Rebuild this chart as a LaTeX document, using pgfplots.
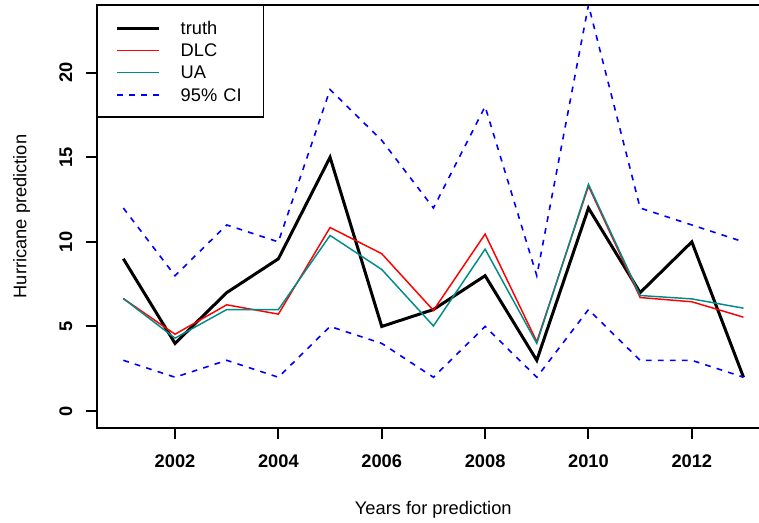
\documentclass[border=0pt]{standalone}
\usepackage{fontspec}
\setmainfont{Liberation Sans}
\usepackage{pgfplots}
\pgfplotsset{compat=1.18}
\definecolor{uacol}{RGB}{0,139,139}
\newcommand\ff{\fontsize{13.7}{16}\selectfont}

\begin{document}
\begin{tikzpicture}
\begin{axis}[
  scale only axis, width=496.5pt, height=317.25pt,
  xmin=2000.49, xmax=2013.30, ymin=-1, ymax=24,
  axis lines*=left,
  axis line style={line width=1.5pt, line cap=rect},
  tick align=outside, major tick length=8.6pt,
  tick style={line width=1.5pt, black},
  xtick={2002,2004,...,2012}, ytick={0,5,10,15,20},
  /pgf/number format/assume math mode=true,
  /pgf/number format/1000 sep={},
  ticklabel style={font=\ff\bfseries},
  xticklabel style={anchor=north, inner sep=0pt, yshift=-11.25pt},
  yticklabel style={xshift=-9.75pt, rotate=90, anchor=south, inner sep=0pt},
  xlabel={Years for prediction}, ylabel={Hurricane prediction},
  label style={font=\ff},
  xlabel style={at={(axis description cs:0.508,0)}, anchor=base, yshift=-65pt, inner sep=0pt},
  ylabel style={at={(axis description cs:-0.1065,0.5)}, anchor=base, inner sep=0pt},
  legend cell align=left,
  legend style={at={(0,1)}, anchor=north west, draw=black, line width=1.1pt, fill=white,
    inner xsep=13.5pt, inner ysep=9.9pt, row sep=3pt, column sep=15pt, font=\ff,
    nodes={inner sep=0pt, text height=11.6pt, text depth=2.1pt, text width=48.75pt}},
  legend image code/.code={\draw[#1] (0pt,0pt) -- (31.5pt,0pt);},
  every axis plot/.append style={line join=miter},
]
\addplot[black, line width=2.25pt] coordinates {
  (2001,9) (2002,4) (2003,7) (2004,9) (2005,15) (2006,5) (2007,6)
  (2008,8) (2009,3) (2010,12) (2011,7) (2012,10) (2013,2)};
\addlegendentry{truth}
\addplot[red, line width=1.1pt] coordinates {
  (2001,6.65) (2002,4.54) (2003,6.28) (2004,5.73) (2005,10.85) (2006,9.3) (2007,5.95)
  (2008,10.46) (2009,4.1) (2010,13.3) (2011,6.71) (2012,6.46) (2013,5.55)};
\addlegendentry{DLC}
\addplot[uacol, line width=1.1pt] coordinates {
  (2001,6.65) (2002,4.31) (2003,6.0) (2004,6.0) (2005,10.38) (2006,8.37) (2007,5.03)
  (2008,9.57) (2009,4.0) (2010,13.4) (2011,6.83) (2012,6.63) (2013,6.08)};
\addlegendentry{UA}
\addplot[blue, line width=1.2pt, dash pattern=on 4.3pt off 4.7pt] coordinates {
  (2001,12) (2002,8) (2003,11) (2004,10) (2005,19) (2006,16) (2007,12)
  (2008,18) (2009,8) (2010,24) (2011,12) (2012,11) (2013,10)};
\addlegendentry{95\% CI}
\addplot[blue, line width=1.2pt, dash pattern=on 4.3pt off 4.7pt, forget plot] coordinates {
  (2001,3) (2002,2) (2003,3) (2004,2) (2005,5) (2006,4) (2007,2)
  (2008,5) (2009,2) (2010,6) (2011,3) (2012,3) (2013,2)};
\draw[line width=1.5pt, line cap=rect] (rel axis cs:0,1) -- (rel axis cs:1,1);
\coordinate (O) at (rel axis cs:0,0);
\end{axis}
\pgfresetboundingbox
\path (O) ++(-72.75pt,-71.25pt) rectangle ++(569.25pt,392.25pt);
\end{tikzpicture}
\end{document}
